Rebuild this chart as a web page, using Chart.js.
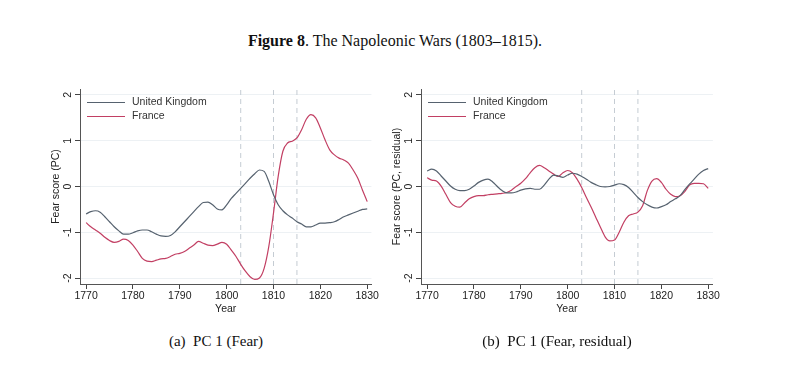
<!DOCTYPE html>
<html>
<head>
<meta charset="utf-8">
<script src="https://cdn.jsdelivr.net/npm/chart.js@4.4.1/dist/chart.umd.min.js"></script>
<style>
  body{margin:0;background:#fff;width:800px;height:370px;position:relative;overflow:hidden;}
  .title{position:absolute;left:0;width:790px;top:32px;text-align:center;font-family:"Liberation Serif",serif;font-size:16px;color:#111;}
  .cap{position:absolute;top:333px;font-family:"Liberation Serif",serif;font-size:15px;color:#111;text-align:center;width:340px;}
  .box{position:absolute;top:80px;width:350px;height:240px;}
  .leg{position:absolute;font-family:"Liberation Sans",Arial,sans-serif;font-size:10.5px;color:#333;}
  .leg div{height:14px;line-height:14px;white-space:nowrap;}
  .leg span{display:inline-block;width:38px;height:0;vertical-align:middle;margin-right:7px;}
</style>
</head>
<body>
<div class="title"><b>Figure 8</b>. The Napoleonic Wars (1803–1815).</div>

<div class="box" style="left:30px"><canvas id="chartA"></canvas></div>
<div class="box" style="left:371px"><canvas id="chartB"></canvas></div>
<div class="leg" id="legA" style="left:87px;top:94px"></div>
<div class="leg" id="legB" style="left:428px;top:94px"></div>

<div class="cap" style="left:46px">(a)&nbsp; PC 1 (Fear)</div>
<div class="cap" style="left:387px">(b)&nbsp; PC 1 (Fear, residual)</div>

<script>
// years 1770-1830
var years=[1770,1771,1772,1773,1774,1775,1776,1777,1778,1779,
           1780,1781,1782,1783,1784,1785,1786,1787,1788,1789,
           1790,1791,1792,1793,1794,1795,1796,1797,1798,1799,
           1800,1801,1802,1803,1804,1805,1806,1807,1808,1809,
           1810,1811,1812,1813,1814,1815,1816,1817,1818,1819,
           1820,1821,1822,1823,1824,1825,1826,1827,1828,1829,1830];

// PC 1 (Fear)
var ukFear=[-0.60,-0.55,-0.53,-0.56,-0.66,-0.77,-0.88,-0.97,-1.04,-1.04,
            -1.01,-0.97,-0.95,-0.95,-0.99,-1.04,-1.08,-1.09,-1.07,-0.99,
            -0.88,-0.77,-0.66,-0.55,-0.44,-0.35,-0.34,-0.40,-0.49,-0.51,
            -0.40,-0.26,-0.15,-0.04,0.07,0.18,0.28,0.36,0.33,0.11,
            -0.18,-0.40,-0.53,-0.62,-0.69,-0.77,-0.82,-0.88,-0.88,-0.84,
            -0.80,-0.80,-0.79,-0.77,-0.72,-0.66,-0.62,-0.58,-0.54,-0.50,-0.49];
var frFear=[-0.79,-0.88,-0.95,-1.02,-1.11,-1.18,-1.22,-1.20,-1.15,-1.18,
            -1.28,-1.42,-1.57,-1.63,-1.64,-1.61,-1.58,-1.57,-1.53,-1.48,
            -1.46,-1.42,-1.35,-1.28,-1.20,-1.24,-1.28,-1.29,-1.26,-1.22,
            -1.26,-1.39,-1.53,-1.70,-1.85,-1.97,-2.03,-2.00,-1.79,-1.31,
            -0.58,0.22,0.77,0.95,0.99,1.06,1.24,1.47,1.57,1.50,
            1.28,1.02,0.80,0.69,0.62,0.58,0.51,0.36,0.18,-0.08,-0.33];

// PC 1 (Fear, residual)
var ukResid=[0.34,0.38,0.34,0.23,0.12,0.01,-0.06,-0.09,-0.09,-0.06,
             0.01,0.09,0.14,0.16,0.10,0.00,-0.09,-0.14,-0.14,-0.12,
             -0.08,-0.05,-0.04,-0.06,-0.06,0.03,0.16,0.25,0.23,0.20,
             0.25,0.29,0.27,0.22,0.16,0.09,0.04,0.00,-0.01,0.00,
             0.03,0.06,0.04,-0.02,-0.13,-0.24,-0.33,-0.40,-0.45,-0.47,
             -0.44,-0.40,-0.33,-0.27,-0.20,-0.07,0.05,0.16,0.27,0.35,0.39];
var frResid=[0.19,0.14,0.12,0.01,-0.17,-0.35,-0.43,-0.45,-0.36,-0.27,
             -0.22,-0.20,-0.20,-0.18,-0.17,-0.16,-0.15,-0.13,-0.08,0.00,
             0.07,0.17,0.30,0.41,0.46,0.41,0.34,0.27,0.22,0.30,
             0.35,0.30,0.16,-0.02,-0.24,-0.45,-0.67,-0.89,-1.10,-1.19,
             -1.17,-1.00,-0.78,-0.64,-0.60,-0.56,-0.42,-0.09,0.12,0.17,
             0.09,-0.06,-0.17,-0.22,-0.20,-0.11,0.03,0.07,0.07,0.06,-0.04];

var warYears=[1803,1810,1815];
var xTicks=[1770,1780,1790,1800,1810,1820,1830];
var yTicks=[-2,-1,0,1,2];
var countries=["United Kingdom","France"];
var colors=["#56626f","#c23f63"];

var yMin=-2.13, yMax=2.13;

function pts(vals){
    return years.map(function(y,i){return {x:y,y:vals[i]};});
}

function makeChart(id,legId,uk,fr,yTitle,xMax){
    var sets=[
        {label:countries[0],data:pts(uk),borderColor:colors[0],borderWidth:1.2,pointRadius:0,tension:0.4,cubicInterpolationMode:'monotone'},
        {label:countries[1],data:pts(fr),borderColor:colors[1],borderWidth:1.2,pointRadius:0,tension:0.4,cubicInterpolationMode:'monotone'}
    ];
    warYears.forEach(function(w){
        sets.push({label:'war'+w,data:[{x:w,y:yMin},{x:w,y:yMax}],borderColor:'#c5ccd3',borderWidth:1,borderDash:[5,4],pointRadius:0});
    });

    new Chart(document.getElementById(id),{
        type:'line',
        data:{datasets:sets},
        options:{
            responsive:true,
            maintainAspectRatio:false,
            animation:false,
            layout:{padding:{top:9,right:8,left:0,bottom:0}},
            plugins:{legend:{display:false},tooltip:{enabled:false}},
            scales:{
                x:{
                    type:'linear',min:1768.7,max:xMax,
                    afterBuildTicks:function(a){a.ticks=xTicks.map(function(v){return {value:v};});},
                    afterFit:function(a){a.height=36;},
                    grid:{drawOnChartArea:false,tickLength:5,tickColor:'#444'},
                    border:{color:'#555',width:1},
                    ticks:{color:'#222',font:{family:'Liberation Sans',size:10.5},padding:1,maxRotation:0,autoSkip:false,
                        callback:function(v){return String(v);}},
                    title:{display:true,text:'Year',color:'#222',font:{family:'Liberation Sans',size:10.5},padding:{top:0,bottom:5}}
                },
                y:{
                    min:yMin,max:yMax,
                    afterBuildTicks:function(a){a.ticks=yTicks.map(function(v){return {value:v};});},
                    afterFit:function(a){a.width=50;},
                    grid:{color:'#edf1f4',lineWidth:1,tickLength:5,tickColor:'#444'},
                    border:{color:'#555',width:1},
                    ticks:{color:'#222',font:{family:'Liberation Sans',size:10.5},padding:2,minRotation:90,maxRotation:90,crossAlign:'center'},
                    title:{display:true,text:yTitle,color:'#222',font:{family:'Liberation Sans',size:10.5},padding:{top:20,bottom:0}}
                }
            }
        }
    });

    // legend
    var html='';
    for(var i=0;i<2;i++){
        html+='<div><span style="border-top:1.4px solid '+colors[i]+'"></span>'+countries[i]+'</div>';
    }
    document.getElementById(legId).innerHTML=html;
}

makeChart('chartA','legA',ukFear,frFear,'Fear score (PC)',1830.9);
makeChart('chartB','legB',ukResid,frResid,'Fear score (PC, residual)',1831);
</script>
</body>
</html>
